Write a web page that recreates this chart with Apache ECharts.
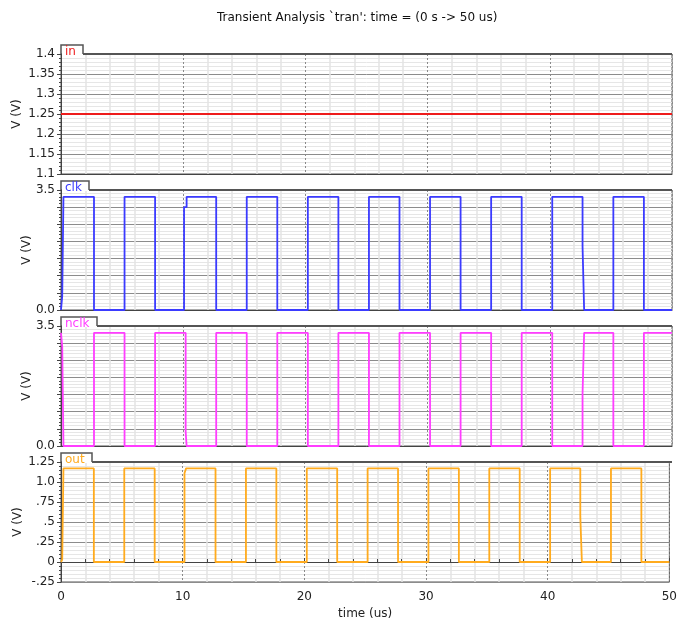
<!DOCTYPE html>
<html><head><meta charset="utf-8">
<script src="https://cdn.jsdelivr.net/npm/echarts@6/dist/echarts.min.js"></script>
<style>html,body{margin:0;padding:0;background:#fff}#c{width:680px;height:627px}</style>
</head><body><div id="c"></div><script>
const titleText = "Transient Analysis `tran': time = (0 s -> 50 us)";
const panelNames = ['in', 'clk', 'nclk', 'out'];
const panelColors = ['#ee1c1c', '#3b3bff', '#ff3dff', '#ffab1e'];
const xTickValues = [0, 10, 20, 30, 40, 50];

const inPts = [[0, 1.25], [50, 1.25]];
const clkPts = [[0,0],[0.1,0],[0.1,0.4],[0.2,0.4],[0.2,3.3],[2.7,3.3],[2.7,0],[5.2,0],[5.2,3.3],[7.7,3.3],[7.7,0],
  [10.07,0],[10.07,3.0],[10.28,3.0],[10.28,3.3],[12.7,3.3],[12.7,0],[15.2,0],[15.2,3.3],[17.7,3.3],[17.7,0],
  [20.2,0],[20.2,3.3],[22.7,3.3],[22.7,0],[25.2,0],[25.2,3.3],[27.7,3.3],[27.7,0],[30.2,0],[30.2,3.3],[32.7,3.3],[32.7,0],
  [35.2,0],[35.2,3.3],[37.7,3.3],[37.7,0],[40.2,0],[40.2,3.3],[42.68,3.3],[42.68,1.85],[42.81,1.85],[42.81,0],
  [45.2,0],[45.2,3.3],[47.7,3.3],[47.7,0],[50,0]];
const nclkPts = [[0,3.3],[0.1,3.3],[0.1,2.9],[0.2,2.9],[0.2,0],[2.7,0],[2.7,3.3],[5.2,3.3],[5.2,0],[7.7,0],[7.7,3.3],
  [10.2,3.3],[10.2,0.42],[10.28,0.42],[10.28,0],[12.7,0],[12.7,3.3],[15.2,3.3],[15.2,0],[17.7,0],[17.7,3.3],
  [20.2,3.3],[20.2,0],[22.7,0],[22.7,3.3],[25.2,3.3],[25.2,0],[27.7,0],[27.7,3.3],[30.2,3.3],[30.2,0],[32.7,0],[32.7,3.3],
  [35.2,3.3],[35.2,0],[37.7,0],[37.7,3.3],[40.2,3.3],[40.2,0],[42.68,0],[42.68,1.52],[42.81,1.52],[42.81,3.3],
  [45.2,3.3],[45.2,0],[47.7,0],[47.7,3.3],[50,3.3]];
const outPts = [[0,0],[0.1,0.03],[0.2,0.03],[0.2,1.17],[2.7,1.17],[2.7,0],[5.2,0],[5.2,1.17],[7.7,1.17],[7.7,0],
  [10.15,0],[10.15,1.11],[10.28,1.11],[10.28,1.17],[12.7,1.17],[12.7,0],[15.2,0],[15.2,1.17],[17.7,1.17],[17.7,0],
  [20.2,0],[20.2,1.17],[22.7,1.17],[22.7,0],[25.2,0],[25.2,1.17],[27.7,1.17],[27.7,0],[30.2,0],[30.2,1.17],[32.7,1.17],[32.7,0],
  [35.2,0],[35.2,1.17],[37.7,1.17],[37.7,0],[40.2,0],[40.2,1.17],[42.68,1.17],[42.68,0.57],[42.81,0.57],[42.81,0],
  [45.2,0],[45.2,1.17],[47.7,1.17],[47.7,0],[50,0]];

const yRanges = [[1.1, 1.4, 0.05], [0, 3.5, 0.5], [0, 3.5, 0.5], [-0.25, 1.25, 0.25]];
const outLabels = {'125':'1.25','100':'1.0','75':'.75','50':'.5','25':'.25','0':'0','-25':'-.25'};
const seriesData = [inPts, clkPts, nclkPts, outPts];

const L = 61, R = 8, H = 120;
const tops = [54, 190, 326, 462];
const tabW = [22, 28, 36, 31];
const nameGaps = [38, 28, 28, 37];
const font = 'DejaVu Sans';

const grids = [], xAxes = [], yAxes = [], series = [], graphics = [];
for (let i = 0; i < 4; i++) {
  grids.push({left: L, right: R, top: tops[i], height: H, show: true, borderColor: '#555', borderWidth: 1, backgroundColor: '#fff'});
  const last = i === 3;
  xAxes.push({
    type: 'value', gridIndex: i, min: 0, max: 50, interval: 10,
    axisLine: {show: true, lineStyle: {color: '#444'}},
    axisTick: {show: last, inside: true, length: 4, lineStyle: {color: '#444'}},
    minorTick: {show: last, splitNumber: 5, length: 3, lineStyle: {color: '#444'}},
    axisLabel: {show: last, fontFamily: font, fontSize: 12, color: '#222', margin: 9,
      customValues: xTickValues},
    splitLine: {show: true, lineStyle: {color: '#8a8a8a', type: [2, 2], width: 1}},
    minorSplitLine: {show: true, lineStyle: {color: '#e3e3e3', width: 1.5}},
    name: last ? 'time (us)' : '', nameLocation: 'middle', nameGap: 26, nameMoveOverlap: false,
    nameTextStyle: {fontFamily: font, fontSize: 12, color: '#222'}
  });
  const yr = yRanges[i];
  let fmt;
  if (i === 0) fmt = v => String(+v.toFixed(2));
  else if (i === 3) fmt = v => outLabels[String(Math.round(v * 100))] || '';
  else fmt = v => (Math.abs(v) < 1e-9 ? '0.0' : (Math.abs(v - 3.5) < 1e-9 ? '3.5' : ''));
  yAxes.push({
    type: 'value', gridIndex: i, min: yr[0], max: yr[1], interval: yr[2],
    axisLine: {show: true, lineStyle: {color: '#444'}},
    axisTick: {show: true, length: 4, lineStyle: {color: '#444'}},
    minorTick: {show: true, splitNumber: 5, length: 2, lineStyle: {color: '#444'}},
    axisLabel: {fontFamily: font, fontSize: 12, color: '#222', margin: 6, formatter: fmt},
    splitLine: {show: true, lineStyle: {color: '#8c8c8c', width: 1}},
    minorSplitLine: {show: true, lineStyle: {color: '#e6e6e6', width: 1}},
    name: 'V (V)', nameLocation: 'middle', nameRotate: 90, nameGap: nameGaps[i], nameMoveOverlap: false,
    nameTextStyle: {fontFamily: font, fontSize: 12, color: '#222'}
  });
  series.push({
    type: 'line', xAxisIndex: i, yAxisIndex: i, data: seriesData[i], showSymbol: false,
    symbol: 'none', animation: false, lineStyle: {color: panelColors[i], width: 1.8}, z: 5
  });
  const t = tops[i];
  graphics.push({type: 'rect', shape: {x: L + 1, y: t - 8, width: tabW[i] - 1, height: 9}, style: {fill: '#fff'}, z: 100});
  graphics.push({type: 'polyline', shape: {points: [[L, t], [L, t - 9], [L + tabW[i], t - 9], [L + tabW[i], t]]},
    style: {stroke: '#555', lineWidth: 1.5, fill: null}, z: 101});
  graphics.push({type: 'line', shape: {x1: L + tabW[i], y1: t, x2: 680 - R, y2: t}, style: {stroke: '#555', lineWidth: 2}, z: 101});
  graphics.push({type: 'text', x: L + 4, y: t - 8, style: {text: panelNames[i], fill: panelColors[i], font: '12px "DejaVu Sans"'}, z: 102});
}

const chart = echarts.init(document.getElementById('c'));
chart.setOption({
  animation: false,
  backgroundColor: '#fff',
  title: {text: titleText, left: 212, top: 7, textStyle: {fontFamily: font, fontSize: 12, fontWeight: 'normal', color: '#111'}},
  grid: grids, xAxis: xAxes, yAxis: yAxes, series: series, graphic: graphics
});
</script></body></html>
